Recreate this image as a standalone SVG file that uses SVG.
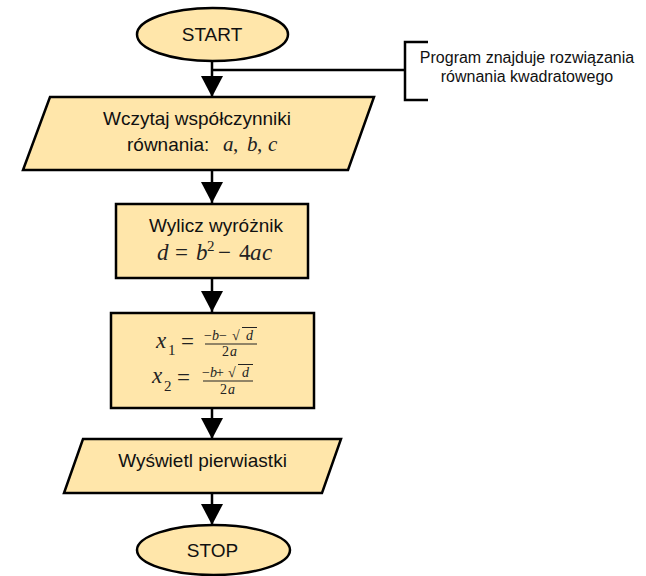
<svg xmlns="http://www.w3.org/2000/svg" width="646" height="576" viewBox="0 0 646 576">
<defs>
<style>
.shape{fill:#ffe6aa;stroke:#000;stroke-width:2.5}
.lbl{font-family:"Liberation Sans",Arial,sans-serif;font-size:19px;fill:#111}
.note{font-family:"Liberation Sans",Arial,sans-serif;font-size:16px;fill:#111;text-anchor:middle}
.m{font-family:"Liberation Serif","Times New Roman",serif;font-size:21px;fill:#222}
.mb{font-family:"Liberation Serif","Times New Roman",serif;font-size:23px;fill:#222}
.mi{font-style:italic}
.sm{font-family:"Liberation Serif","Times New Roman",serif;font-size:14px;fill:#222}
.conn{stroke:#000;stroke-width:2.5;fill:none}
.thin{stroke:#222;stroke-width:1}
</style>
<marker id="arr" viewBox="0 0 21 22" markerWidth="21" markerHeight="22" refX="21" refY="11" orient="auto" markerUnits="userSpaceOnUse">
<path d="M0,0 L21,11 L0,22 z" fill="#000"/>
</marker>
</defs>
<rect width="646" height="576" fill="#fff"/>
<g id="connectors">
<line class="conn" x1="212" y1="61" x2="212" y2="97" marker-end="url(#arr)"/>
<line class="conn" x1="212" y1="170" x2="212" y2="203" marker-end="url(#arr)"/>
<line class="conn" x1="212" y1="278" x2="212" y2="312" marker-end="url(#arr)"/>
<line class="conn" x1="212" y1="408" x2="212" y2="439" marker-end="url(#arr)"/>
<line class="conn" x1="212" y1="493" x2="212" y2="525" marker-end="url(#arr)"/>
<line class="conn" x1="212" y1="70" x2="405" y2="70"/>
</g>
<g id="start">
<ellipse class="shape" cx="212.5" cy="34.5" rx="75.5" ry="26.5"/>
<text class="lbl" x="212" y="41" text-anchor="middle">START</text>
</g>
<g id="note">
<path class="conn" d="M428,42 H405 V100 H428"/>
<text class="note" x="527" y="63">Program znajduje rozwiązania</text>
<text class="note" x="527" y="82">równania kwadratowego</text>
</g>
<g id="input">
<polygon class="shape" points="50,97 374,97 348,170 23,170"/>
<text class="lbl" x="197" y="125" text-anchor="middle">Wczytaj współczynniki</text>
<text class="lbl" x="127" y="151">równania:</text>
<text class="m" y="151"><tspan class="mi" x="223">a</tspan><tspan x="233">,</tspan><tspan class="mi" x="247">b</tspan><tspan x="257">,</tspan><tspan class="mi" x="268">c</tspan></text>
</g>
<g id="discriminant">
<rect class="shape" x="116" y="204" width="192" height="74"/>
<text class="lbl" x="216" y="232" text-anchor="middle">Wylicz wyróżnik</text>
<text class="mb" y="260"><tspan class="mi" x="157">d</tspan><tspan x="175">=</tspan><tspan class="mi" x="196">b</tspan><tspan x="207" y="251" font-size="15">2</tspan><tspan x="218" y="260">−</tspan><tspan x="239">4</tspan><tspan class="mi" x="250">a</tspan><tspan class="mi" x="262">c</tspan></text>
</g>
<g id="roots">
<rect class="shape" x="111" y="313" width="203" height="95"/>
<text class="mb"><tspan class="mi" x="156" y="348">x</tspan><tspan x="168" y="355" font-size="15">1</tspan><tspan x="181" y="349">=</tspan></text>
<line class="thin" x1="205" y1="344" x2="257" y2="344"/>
<text class="sm" y="340"><tspan x="204">−</tspan><tspan class="mi" x="212">b</tspan><tspan x="219">−</tspan></text>
<text class="sm" x="232" y="340" font-size="19">√</text>
<text class="sm mi" x="246" y="340">d</text>
<line class="thin" x1="242" y1="327.5" x2="257" y2="327.5"/>
<text class="sm" y="356"><tspan x="222">2</tspan><tspan class="mi" x="230">a</tspan></text>
<text class="mb"><tspan class="mi" x="152" y="383">x</tspan><tspan x="164" y="391" font-size="15">2</tspan><tspan x="177" y="385">=</tspan></text>
<line class="thin" x1="203" y1="381" x2="253" y2="381"/>
<text class="sm" y="377"><tspan x="202">−</tspan><tspan class="mi" x="210">b</tspan><tspan x="216">+</tspan></text>
<text class="sm" x="228" y="377" font-size="19">√</text>
<text class="sm mi" x="242" y="377">d</text>
<line class="thin" x1="238" y1="364.5" x2="253" y2="364.5"/>
<text class="sm" y="394"><tspan x="220">2</tspan><tspan class="mi" x="228">a</tspan></text>
</g>
<g id="output">
<polygon class="shape" points="83,439 341,439 322,493 64,493"/>
<text class="lbl" x="202.5" y="467" text-anchor="middle">Wyświetl pierwiastki</text>
</g>
<g id="stop">
<ellipse class="shape" cx="213.5" cy="550" rx="76.5" ry="25"/>
<text class="lbl" x="212.5" y="557" text-anchor="middle">STOP</text>
</g>
</svg>
